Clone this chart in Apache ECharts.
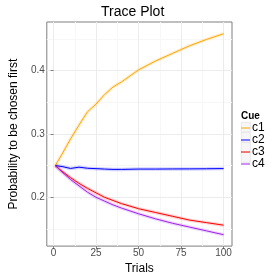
<!DOCTYPE html>
<html>
<head>
<meta charset="utf-8">
<style>html,body{margin:0;padding:0;background:#fff}#c{width:280px;height:280px}</style>
<script src="https://cdn.jsdelivr.net/npm/echarts@6/dist/echarts.min.js"></script>
</head>
<body>
<div id="c"></div>
<script>
const trials = [1, 5, 10, 15, 20, 25, 30, 35, 40, 50, 60, 70, 80, 90, 100];
const c1 = [0.250, 0.268, 0.292, 0.314, 0.335, 0.347, 0.362, 0.374, 0.382, 0.401, 0.415, 0.427, 0.439, 0.449, 0.458];
const c2 = [0.250, 0.2485, 0.2455, 0.2475, 0.2458, 0.2452, 0.2445, 0.2440, 0.2440, 0.2445, 0.2445, 0.2447, 0.2448, 0.2450, 0.2453];
const c3 = [0.250, 0.241, 0.231, 0.222, 0.214, 0.207, 0.200, 0.195, 0.190, 0.182, 0.176, 0.170, 0.164, 0.160, 0.156];
const c4 = [0.250, 0.240, 0.228, 0.218, 0.208, 0.200, 0.194, 0.188, 0.183, 0.174, 0.166, 0.159, 0.153, 0.147, 0.141];
const seriesNames = ['c1', 'c2', 'c3', 'c4'];
const seriesValues = [c1, c2, c3, c4];
const colors = ['#FFA500', '#0000FF', '#FF0000', '#A020F0'];
const xTicks = [0, 25, 50, 75, 100];
const xMinor = [12.5, 37.5, 62.5, 87.5];
const yTicks = [0.2, 0.3, 0.4];
const yMinor = [0.15, 0.25, 0.35, 0.45];

const FONT = 'Liberation Sans, Arial, Helvetica, sans-serif';
const chart = echarts.init(document.getElementById('c'), null, {renderer: 'canvas'});

const pairs = arr => trials.map((t, i) => [t, arr[i]]);
const series = [];
series.push({
  type: 'line', data: [], showSymbol: false, silent: true, z: 0,
  markLine: {
    z: 0, silent: true, symbol: ['none', 'none'], label: {show: false}, animation: false,
    data: [
      ...xMinor.map(v => ({xAxis: v, lineStyle: {color: '#f7f7f7', width: 1, type: 'solid'}})),
      ...yMinor.map(v => ({yAxis: v, lineStyle: {color: '#f7f7f7', width: 1, type: 'solid'}})),
      ...xTicks.map(v => ({xAxis: v, lineStyle: {color: '#ececec', width: 1, type: 'solid'}})),
      ...yTicks.map(v => ({yAxis: v, lineStyle: {color: '#ececec', width: 1, type: 'solid'}}))
    ]
  }
});
seriesNames.forEach((n, i) => {
  series.push({
    name: n + '_band', type: 'line', data: pairs(seriesValues[i]), showSymbol: false, silent: true,
    lineStyle: {color: colors[i], width: 3.5, opacity: 0.18}, z: 2
  });
});
seriesNames.forEach((n, i) => {
  series.push({
    name: n, type: 'line', data: pairs(seriesValues[i]), showSymbol: false, symbol: 'none',
    lineStyle: {color: colors[i], width: 1}, itemStyle: {color: colors[i]}, z: 3
  });
});

const lineIcon = 'path://M0,0L10,0L10,0Z M0,4.4L10,4.4L10,5.6L0,5.6Z M0,10L10,10L10,10Z';

chart.setOption({
  animation: false,
  textStyle: {fontFamily: FONT},
  title: [
    {text: 'Trace Plot', left: 101, top: 5, textStyle: {fontFamily: FONT, fontSize: 14, fontWeight: 'normal', color: '#000'}, padding: 0},
    {text: 'Cue', left: 241, top: 111, textStyle: {fontFamily: FONT, fontSize: 10, fontWeight: 'bold', color: '#000'}, padding: 0}
  ],
  graphic: seriesNames.map((n, i) => ({
    type: 'rect', left: 241, top: 122 + i * 10, z: -1, silent: true,
    shape: {width: 9, height: 10}, style: {fill: '#f6f6f6', stroke: '#dcdcdc', lineWidth: 0.6}
  })),
  legend: {
    data: seriesNames.map((n, i) => ({name: n, icon: lineIcon, itemStyle: {color: colors[i]}})),
    orient: 'vertical', left: 241, top: 122, padding: 0,
    itemWidth: 9, itemHeight: 10, itemGap: 0,
    textStyle: {fontFamily: FONT, fontSize: 12, color: '#000', lineHeight: 10, padding: [0, 0, 0, -3]}
  },
  grid: {left: 35, top: 22, width: 197, height: 230, show: true, borderColor: '#7f7f7f', borderWidth: 1, backgroundColor: '#fff'},
  xAxis: {
    type: 'value', min: -3.95, max: 104.95,
    name: 'Trials', nameLocation: 'middle', nameGap: 12,
    nameTextStyle: {fontFamily: FONT, fontSize: 12, color: '#000'},
    axisLine: {show: false}, splitLine: {show: false},
    axisTick: {show: true, length: 3, lineStyle: {color: '#7f7f7f'}, customValues: xTicks},
    axisLabel: {fontFamily: FONT, fontSize: 10, color: '#4d4d4d', margin: 2, customValues: xTicks}
  },
  yAxis: {
    type: 'value', min: 0.123, max: 0.4765,
    name: 'Probability to be chosen first', nameLocation: 'middle', nameGap: 19,
    nameTextStyle: {fontFamily: FONT, fontSize: 12, color: '#000'},
    axisLine: {show: false}, splitLine: {show: false},
    axisTick: {show: true, length: 3, lineStyle: {color: '#7f7f7f'}, customValues: yTicks},
    axisLabel: {fontFamily: FONT, fontSize: 10, color: '#4d4d4d', margin: 2, customValues: yTicks, formatter: v => v.toFixed(1)}
  },
  series: series
});
</script>
</body>
</html>
